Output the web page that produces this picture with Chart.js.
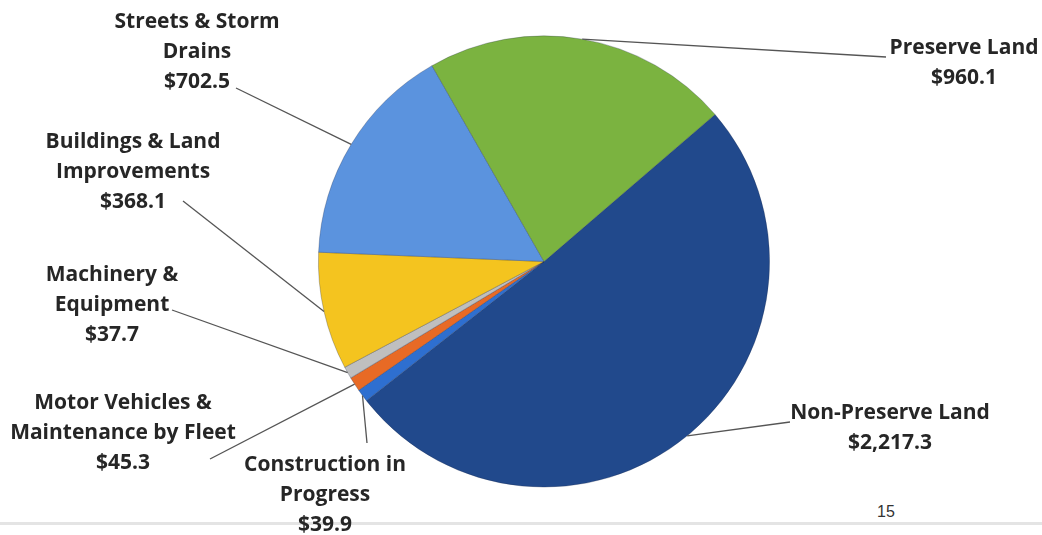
<!DOCTYPE html>
<html>
<head>
<meta charset="utf-8">
<script src="https://cdn.jsdelivr.net/npm/chart.js"></script>
<style>
  html, body { margin: 0; padding: 0; background: #fff; }
  #wrap { position: relative; width: 1042px; height: 535px; overflow: hidden; }
  #rule { position: absolute; left: 0; top: 522px; width: 1042px; height: 3px; background: #e4e4e4; }
  #page { position: absolute; left: 877px; top: 503px; font: 16px "Liberation Sans", Arial, sans-serif; color: #333; }
  canvas { position: absolute; left: 0; top: 0; }
</style>
</head>
<body>
<div id="wrap">
  <div id="rule"></div>
  <div id="page">15</div>
  <canvas id="pie" width="1042" height="535"></canvas>
</div>
<script>
const categories = ['Non-Preserve Land', 'Construction in Progress', 'Motor Vehicles & Maintenance by Fleet',
  'Machinery & Equipment', 'Buildings & Land Improvements', 'Streets & Storm Drains', 'Preserve Land'];
const values = [2217.3, 39.9, 45.3, 37.7, 368.1, 702.5, 960.1];
const labelLines = [
  ['Non-Preserve Land'],
  ['Construction in', 'Progress'],
  ['Motor Vehicles &', 'Maintenance by Fleet'],
  ['Machinery &', 'Equipment'],
  ['Buildings & Land', 'Improvements'],
  ['Streets & Storm', 'Drains'],
  ['Preserve Land']
];
const colors = ['#21498c', '#2e6fd0', '#e86a25', '#bfbfbf', '#f4c41f', '#5b93de', '#7bb340'];

// label text centre (first line) and where its leader line starts
const labelPos = [
  { x: 890, y: 413, lx: 790, ly: 422 },
  { x: 325, y: 465, lx: 367, ly: 443 },
  { x: 123, y: 403, lx: 210, ly: 459 },
  { x: 112, y: 275, lx: 172, ly: 310 },
  { x: 133, y: 142, lx: 183, ly: 201 },
  { x: 197, y: 22,  lx: 236, ly: 88 },
  { x: 964, y: 48,  lx: 886, ly: 57 }
];

const money = v => '$' + v.toLocaleString('en-US', { minimumFractionDigits: 1, maximumFractionDigits: 1 });

const outsideLabels = {
  id: 'outsideLabels',
  afterDatasetsDraw(chart) {
    const ctx = chart.ctx;
    const arcs = chart.getDatasetMeta(0).data;
    ctx.save();
    arcs.forEach((arc, i) => {
      const p = labelPos[i];
      const mid = (arc.startAngle + arc.endAngle) / 2;
      const ax = arc.x + Math.cos(mid) * arc.outerRadius;
      const ay = arc.y + Math.sin(mid) * arc.outerRadius;
      ctx.strokeStyle = '#555';
      ctx.lineWidth = 1.3;
      ctx.beginPath();
      ctx.moveTo(p.lx, p.ly);
      ctx.lineTo(ax, ay);
      ctx.stroke();

      ctx.fillStyle = '#262626';
      ctx.font = 'bold 21px "Open Sans", Lato, sans-serif';
      ctx.textAlign = 'center';
      ctx.textBaseline = 'middle';
      const lines = labelLines[i].concat([money(values[i])]);
      lines.forEach((t, k) => ctx.fillText(t, p.x, p.y + k * 30));
    });
    ctx.restore();
  }
};

new Chart(document.getElementById('pie'), {
  type: 'pie',
  data: {
    labels: categories,
    datasets: [{
      data: values,
      backgroundColor: colors,
      borderColor: 'rgba(30,40,70,0.35)',
      borderWidth: 0.8
    }]
  },
  options: {
    responsive: false,
    animation: false,
    rotation: 49.3,
    layout: { padding: { top: 35, bottom: 47, left: 318, right: 272 } },
    plugins: { legend: { display: false }, tooltip: { enabled: false } }
  },
  plugins: [outsideLabels]
});
</script>
</body>
</html>
